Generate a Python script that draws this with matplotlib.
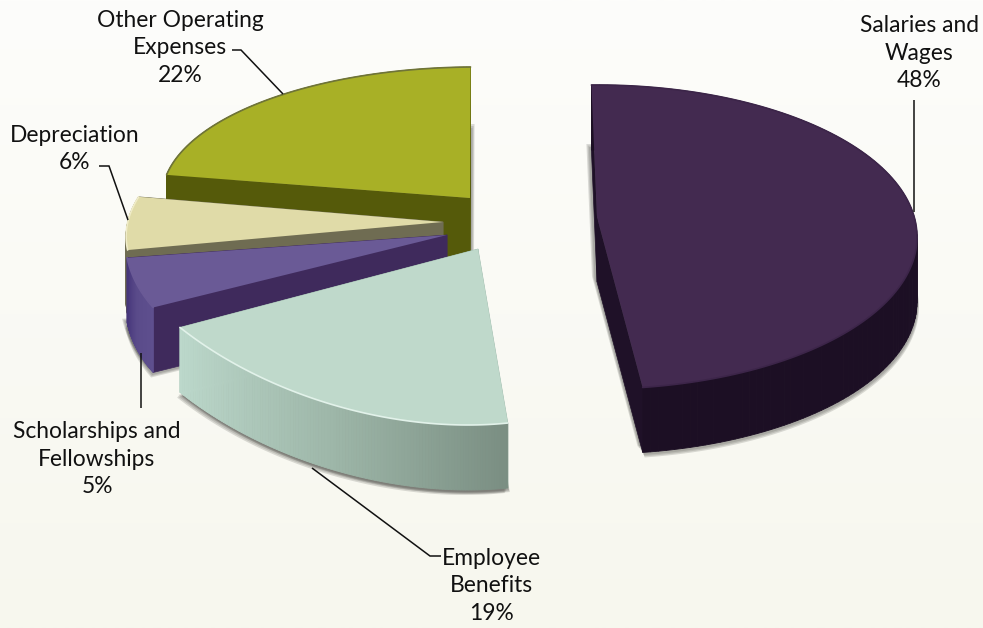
import numpy as np
import matplotlib
matplotlib.use('Agg')
import matplotlib.pyplot as plt
from matplotlib.colors import to_rgb
from matplotlib.patches import Polygon

plt.rcParams['font.family'] = ['Lato', 'DejaVu Sans']

# slice values, clockwise from the top of the pie
names = ['Salaries and Wages', 'Employee Benefits', 'Scholarships and Fellowships',
         'Depreciation', 'Other Operating Expenses']
percents = [48, 19, 5, 6, 22]

START_ANGLE = 91
DEPTH = 65

# each slice has its own ellipse because of the exploded perspective
shapes = {
    'Salaries and Wages': dict(cx=597, cy=237, a=320, b=152, skew=0, apex=(597, 217)),
    'Employee Benefits': dict(cx=387, cy=231, a=285, b=194, skew=-81, apex=(478, 249)),
    'Scholarships and Fellowships': dict(cx=445, cy=223, a=318, b=170, skew=32, apex=(447, 235)),
    'Depreciation': dict(cx=450, cy=221, a=322, b=142, skew=35, apex=(443, 222)),
    'Other Operating Expenses': dict(cx=476, cy=197, a=314, b=130, skew=0, apex=(470, 198)),
}
styles = {
    'Salaries and Wages': dict(top='#432a50', cut='#1f1128', rim=['#1c0f24', '#1c0f24', '#1c0f24'],
                               edge='#3c2549', shadow=[(-5, -6), (2, 5)]),
    'Employee Benefits': dict(top='#bfd9cb', cut='#a0bcae', rim=['#7a8e82', '#9db6a8', '#bcd8cb'],
                              edge='#e2f2ea', shadow=[(-3, 5), (2, 4)]),
    'Scholarships and Fellowships': dict(top='#6a5a96', cut='#3f2a5c', rim=['#5e4f8e', '#5a4b8a', '#46367a'],
                                         edge='#6a5a96', shadow=[(-5, -4), (-2, 5)]),
    'Depreciation': dict(top='#e0dba8', cut='#6f6c52', rim=['#6f6c52', '#6f6c52', '#6f6c52'],
                         edge='#f0ecc8', shadow=[]),
    'Other Operating Expenses': dict(top='#a8b026', cut='#555a0a', rim=['#555a0a', '#555a0a', '#555a0a'],
                                     edge='#6f7438', shadow=[(4, -8)]),
}
draw_order = ['Other Operating Expenses', 'Depreciation', 'Scholarships and Fellowships',
              'Employee Benefits', 'Salaries and Wages']

# label text with its centre, and the leader line running to the slice
labels = [
    ('Salaries and\nWages\n48%', 919, 53),
    ('Other Operating\nExpenses\n22%', 180, 48),
    ('Depreciation\n6%', 75, 149),
    ('Scholarships and\nFellowships\n5%', 97, 459),
    ('Employee\nBenefits\n19%', 491, 586),
]
leaders = [
    ([914, 914], [100, 212]),
    ([232, 241, 283], [50, 50, 94]),
    ([99, 109, 128], [166, 166, 220]),
    ([141, 141], [353, 408]),
    ([312, 430, 441], [468, 556, 556]),
]


def slice_angles():
    spans = np.array(percents) / 100 * 360
    ends = START_ANGLE - np.cumsum(spans)
    starts = ends + spans
    return {n: (s, e) for n, s, e in zip(names, starts, ends)}


def arc_points(shape, start, end, n=120):
    t = np.radians(np.linspace(start, end, n))
    x = shape['cx'] + shape['a'] * np.cos(t) + shape['skew'] * np.sin(t)
    y = shape['cy'] - shape['b'] * np.sin(t)
    return x, y


def blend(stops, t):
    stops = [np.array(to_rgb(c)) for c in stops]
    pos = t * (len(stops) - 1)
    i = min(int(pos), len(stops) - 2)
    return tuple(stops[i] + (stops[i + 1] - stops[i]) * (pos - i))


def draw_shadow(ax, name, start, end):
    shape = shapes[name]
    x, y = arc_points(shape, start, end)
    ax_, ay_ = shape['apex']
    px = np.r_[x, ax_]
    py = np.r_[y, ay_] + DEPTH
    for dx, dy in styles[name]['shadow']:
        for k in (1.0, 0.75, 0.5):
            ax.add_patch(Polygon(np.c_[px + dx * k, py + dy * k], closed=True,
                                 fc='#555550', ec='none', alpha=0.2, zorder=1))


def draw_slice(ax, name, start, end, z):
    shape = shapes[name]
    style = styles[name]
    x, y = arc_points(shape, start, end)
    apex_x, apex_y = shape['apex']

    # the two flat cut faces
    for i in (0, -1):
        quad = [(x[i], y[i]), (apex_x, apex_y), (apex_x, apex_y + DEPTH), (x[i], y[i] + DEPTH)]
        ax.add_patch(Polygon(quad, closed=True, fc=style['cut'], ec=style['cut'], lw=0.5, zorder=z))

    # curved outer wall, shaded along the arc
    for i in range(len(x) - 1):
        quad = [(x[i], y[i]), (x[i + 1], y[i + 1]), (x[i + 1], y[i + 1] + DEPTH), (x[i], y[i] + DEPTH)]
        col = blend(style['rim'], i / (len(x) - 2))
        ax.add_patch(Polygon(quad, closed=True, fc=col, ec=col, lw=0.6, zorder=z + 0.1))

    # top face
    ax.add_patch(Polygon(np.c_[np.r_[x, apex_x], np.r_[y, apex_y]], closed=True,
                         fc=style['top'], ec='none', zorder=z + 0.2))
    ax.plot(x, y, color=style['edge'], lw=1.2, zorder=z + 0.3, solid_capstyle='round')


fig = plt.figure(figsize=(9.83, 6.28), dpi=100)
ax = fig.add_axes([0, 0, 1, 1])

# pale cream backdrop, a bit darker towards the bottom
backdrop = np.linspace(0, 1, 256)[:, None, None] * (np.array(to_rgb('#f7f7ee')) - np.array(to_rgb('#fdfdfb'))) \
    + np.array(to_rgb('#fdfdfb'))
ax.imshow(backdrop, extent=(0, 983, 628, 0), aspect='auto', zorder=0)

angles = slice_angles()
for name in draw_order:
    draw_shadow(ax, name, *angles[name])
for z, name in enumerate(draw_order):
    draw_slice(ax, name, *angles[name], z=2 + z)

for xs, ys in leaders:
    ax.plot(xs, ys, color='#111111', lw=1.1, zorder=10, solid_capstyle='butt', solid_joinstyle='miter')

for text, x, y in labels:
    ax.text(x, y, text, ha='center', va='center', fontsize=16.4, color='#111111',
            linespacing=1.39, zorder=11)

ax.set_xlim(0, 983)
ax.set_ylim(628, 0)
ax.axis('off')
fig.savefig('out.png', dpi=100)
